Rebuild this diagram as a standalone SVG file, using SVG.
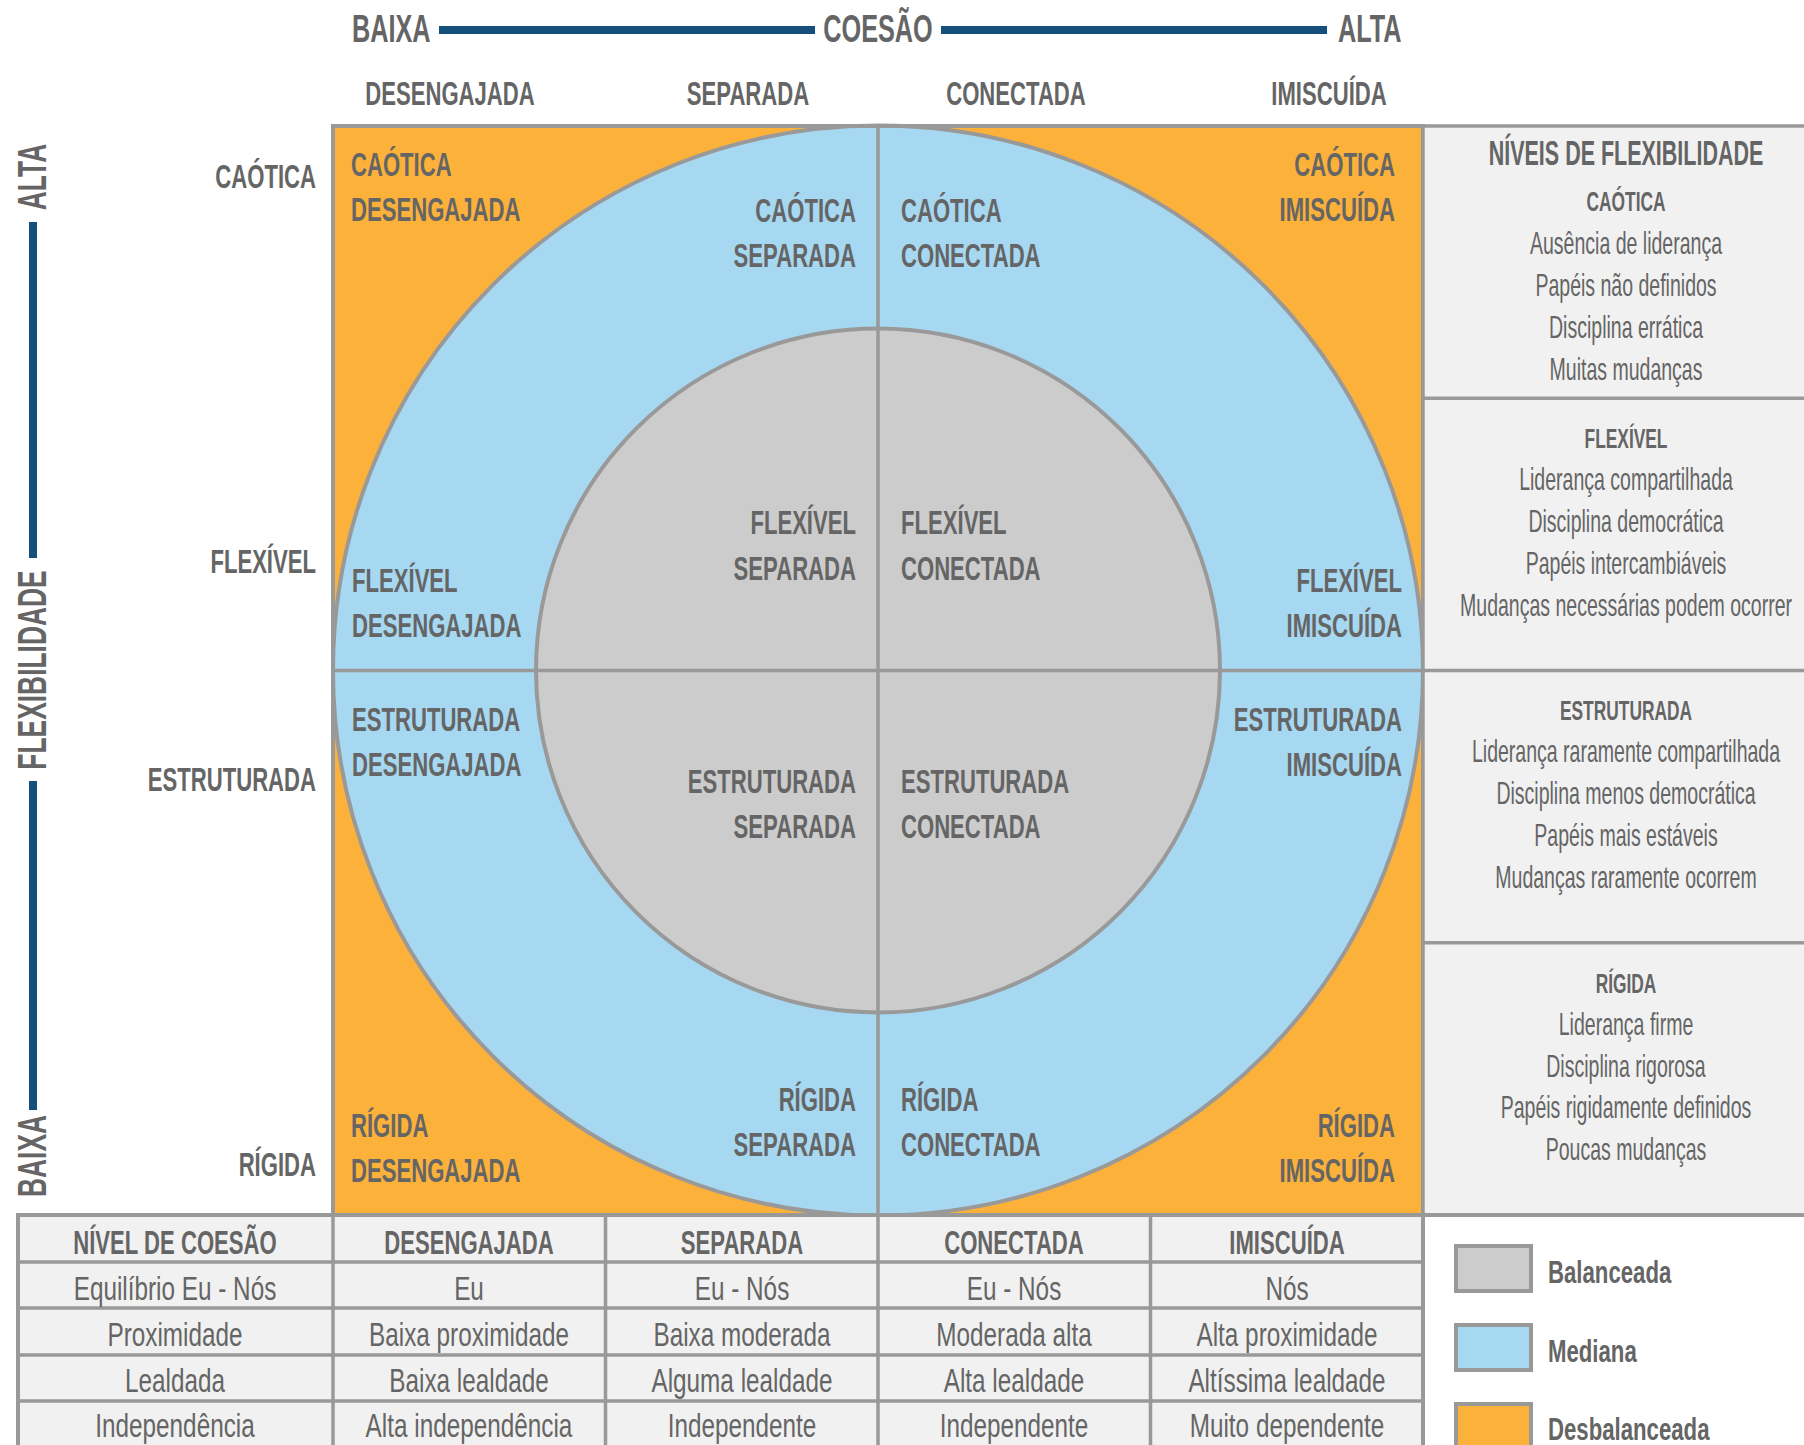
<svg xmlns="http://www.w3.org/2000/svg" width="1804" height="1445" viewBox="0 0 1804 1445">
<style>
text{font-family:"Liberation Sans",Arial,sans-serif;fill:#656565}
.t{font-size:38px;font-weight:bold}
.v{font-size:40px;font-weight:bold}
.b{font-size:33px;font-weight:bold}
.ph{font-size:35px;font-weight:bold}
.ps{font-size:28px;font-weight:bold}
.pr{font-size:31px}
.tr{font-size:33px}
.lg{font-size:31px;font-weight:bold}
.m{text-anchor:middle}
.e{text-anchor:end}
.ln{stroke:#999;stroke-width:3.5;fill:none}
.ax{stroke:#154f7b;stroke-width:8}
</style>
<rect width="1804" height="1445" fill="#fff"/>

<g id="axes">
<line class="ax" x1="439" y1="30" x2="815" y2="30"/>
<line class="ax" x1="941" y1="30" x2="1327" y2="30"/>
<line class="ax" x1="33" y1="222" x2="33" y2="558"/>
<line class="ax" x1="33" y1="781" x2="33" y2="1110"/>
</g>

<g id="titles">
<text class="t" transform="translate(352,42) scale(0.665,1)">BAIXA</text>
<text class="t m" transform="translate(878,42) scale(0.665,1)">COESÃO</text>
<text class="t" transform="translate(1338,42) scale(0.665,1)">ALTA</text>
<text class="v m" transform="translate(46,177) rotate(-90) scale(0.66,1)">ALTA</text>
<text class="v m" transform="translate(46,670) rotate(-90) scale(0.66,1)">FLEXIBILIDADE</text>
<text class="v m" transform="translate(46,1156) rotate(-90) scale(0.66,1)">BAIXA</text>
</g>

<g id="column-headers">
<text class="b m" transform="translate(450,105) scale(0.67,1)">DESENGAJADA</text>
<text class="b m" transform="translate(748,105) scale(0.67,1)">SEPARADA</text>
<text class="b m" transform="translate(1016,105) scale(0.67,1)">CONECTADA</text>
<text class="b m" transform="translate(1329,105) scale(0.67,1)">IMISCUÍDA</text>
</g>

<g id="row-headers">
<text class="b e" transform="translate(316,188) scale(0.67,1)">CAÓTICA</text>
<text class="b e" transform="translate(316,573) scale(0.67,1)">FLEXÍVEL</text>
<text class="b e" transform="translate(316,791) scale(0.67,1)">ESTRUTURADA</text>
<text class="b e" transform="translate(316,1176) scale(0.67,1)">RÍGIDA</text>
</g>

<g id="circumplex">
<rect x="333" y="126" width="1090" height="1089" fill="#fcb13b"/>
<circle cx="878" cy="670.5" r="545" fill="#a7d8f1" stroke="#999" stroke-width="4"/>
<circle cx="878" cy="670.5" r="342" fill="#cccccc" stroke="#999" stroke-width="4"/>
<line class="ln" x1="878" y1="126" x2="878" y2="1215"/>
<line class="ln" x1="333" y1="670.5" x2="1423" y2="670.5"/>
<rect x="333" y="126" width="1090" height="1089" fill="none" stroke="#999" stroke-width="4"/>
</g>

<g id="unbalanced-labels">
<text class="b" transform="translate(351,176) scale(0.67,1)">CAÓTICA</text>
<text class="b" transform="translate(351,221) scale(0.67,1)">DESENGAJADA</text>
<text class="b e" transform="translate(1395,176) scale(0.67,1)">CAÓTICA</text>
<text class="b e" transform="translate(1395,221) scale(0.67,1)">IMISCUÍDA</text>
<text class="b" transform="translate(351,1137) scale(0.67,1)">RÍGIDA</text>
<text class="b" transform="translate(351,1182) scale(0.67,1)">DESENGAJADA</text>
<text class="b e" transform="translate(1395,1137) scale(0.67,1)">RÍGIDA</text>
<text class="b e" transform="translate(1395,1182) scale(0.67,1)">IMISCUÍDA</text>
</g>

<g id="mid-range-labels">
<text class="b e" transform="translate(856,222) scale(0.67,1)">CAÓTICA</text>
<text class="b e" transform="translate(856,267) scale(0.67,1)">SEPARADA</text>
<text class="b" transform="translate(901,222) scale(0.67,1)">CAÓTICA</text>
<text class="b" transform="translate(901,267) scale(0.67,1)">CONECTADA</text>
<text class="b" transform="translate(352,592) scale(0.67,1)">FLEXÍVEL</text>
<text class="b" transform="translate(352,637) scale(0.67,1)">DESENGAJADA</text>
<text class="b e" transform="translate(1402,592) scale(0.67,1)">FLEXÍVEL</text>
<text class="b e" transform="translate(1402,637) scale(0.67,1)">IMISCUÍDA</text>
<text class="b" transform="translate(352,731) scale(0.67,1)">ESTRUTURADA</text>
<text class="b" transform="translate(352,776) scale(0.67,1)">DESENGAJADA</text>
<text class="b e" transform="translate(1402,731) scale(0.67,1)">ESTRUTURADA</text>
<text class="b e" transform="translate(1402,776) scale(0.67,1)">IMISCUÍDA</text>
<text class="b e" transform="translate(856,1111) scale(0.67,1)">RÍGIDA</text>
<text class="b e" transform="translate(856,1156) scale(0.67,1)">SEPARADA</text>
<text class="b" transform="translate(901,1111) scale(0.67,1)">RÍGIDA</text>
<text class="b" transform="translate(901,1156) scale(0.67,1)">CONECTADA</text>
</g>

<g id="balanced-labels">
<text class="b e" transform="translate(856,534) scale(0.67,1)">FLEXÍVEL</text>
<text class="b e" transform="translate(856,580) scale(0.67,1)">SEPARADA</text>
<text class="b" transform="translate(901,534) scale(0.67,1)">FLEXÍVEL</text>
<text class="b" transform="translate(901,580) scale(0.67,1)">CONECTADA</text>
<text class="b e" transform="translate(856,793) scale(0.67,1)">ESTRUTURADA</text>
<text class="b e" transform="translate(856,838) scale(0.67,1)">SEPARADA</text>
<text class="b" transform="translate(901,793) scale(0.67,1)">ESTRUTURADA</text>
<text class="b" transform="translate(901,838) scale(0.67,1)">CONECTADA</text>
</g>

<g id="flexibility-panel">
<rect x="1423" y="126" width="385" height="1089" fill="#f1f1f1"/>
<line class="ln" x1="1423" y1="126" x2="1804" y2="126"/>
<line class="ln" x1="1423" y1="398.25" x2="1804" y2="398.25"/>
<line class="ln" x1="1423" y1="670.5" x2="1804" y2="670.5"/>
<line class="ln" x1="1423" y1="942.75" x2="1804" y2="942.75"/>
<line class="ln" x1="1423" y1="126" x2="1423" y2="1215"/>
<text class="ph m" transform="translate(1626,165) scale(0.614,1)">NÍVEIS DE FLEXIBILIDADE</text>
<text class="ps m" transform="translate(1626,211) scale(0.62,1)">CAÓTICA</text>
<text class="pr m" transform="translate(1626,254) scale(0.63,1)">Ausência de liderança</text>
<text class="pr m" transform="translate(1626,296) scale(0.63,1)">Papéis não definidos</text>
<text class="pr m" transform="translate(1626,338) scale(0.63,1)">Disciplina errática</text>
<text class="pr m" transform="translate(1626,380) scale(0.63,1)">Muitas mudanças</text>
<text class="ps m" transform="translate(1626,448) scale(0.62,1)">FLEXÍVEL</text>
<text class="pr m" transform="translate(1626,490) scale(0.63,1)">Liderança compartilhada</text>
<text class="pr m" transform="translate(1626,532) scale(0.63,1)">Disciplina democrática</text>
<text class="pr m" transform="translate(1626,574) scale(0.63,1)">Papéis intercambiáveis</text>
<text class="pr m" transform="translate(1626,616) scale(0.63,1)">Mudanças necessárias podem ocorrer</text>
<text class="ps m" transform="translate(1626,720) scale(0.62,1)">ESTRUTURADA</text>
<text class="pr m" transform="translate(1626,762) scale(0.63,1)">Liderança raramente compartilhada</text>
<text class="pr m" transform="translate(1626,804) scale(0.63,1)">Disciplina menos democrática</text>
<text class="pr m" transform="translate(1626,846) scale(0.63,1)">Papéis mais estáveis</text>
<text class="pr m" transform="translate(1626,888) scale(0.63,1)">Mudanças raramente ocorrem</text>
<text class="ps m" transform="translate(1626,993) scale(0.62,1)">RÍGIDA</text>
<text class="pr m" transform="translate(1626,1035) scale(0.63,1)">Liderança firme</text>
<text class="pr m" transform="translate(1626,1077) scale(0.63,1)">Disciplina rigorosa</text>
<text class="pr m" transform="translate(1626,1118) scale(0.63,1)">Papéis rigidamente definidos</text>
<text class="pr m" transform="translate(1626,1160) scale(0.63,1)">Poucas mudanças</text>
</g>

<g id="cohesion-table">
<rect x="18" y="1215" width="1405" height="240" fill="#f1f1f1" stroke="#999" stroke-width="4"/>
<line class="ln" x1="18" y1="1262" x2="1423" y2="1262"/>
<line class="ln" x1="18" y1="1308" x2="1423" y2="1308"/>
<line class="ln" x1="18" y1="1355" x2="1423" y2="1355"/>
<line class="ln" x1="18" y1="1401" x2="1423" y2="1401"/>
<line class="ln" x1="333" y1="1215" x2="333" y2="1445"/>
<line class="ln" x1="605.5" y1="1215" x2="605.5" y2="1445"/>
<line class="ln" x1="878" y1="1215" x2="878" y2="1445"/>
<line class="ln" x1="1150.5" y1="1215" x2="1150.5" y2="1445"/>
<line x1="18" y1="1215" x2="1804" y2="1215" stroke="#999" stroke-width="4"/>
<text class="b m" transform="translate(175,1254) scale(0.67,1)">NÍVEL DE COESÃO</text>
<text class="b m" transform="translate(469,1254) scale(0.67,1)">DESENGAJADA</text>
<text class="b m" transform="translate(742,1254) scale(0.67,1)">SEPARADA</text>
<text class="b m" transform="translate(1014,1254) scale(0.67,1)">CONECTADA</text>
<text class="b m" transform="translate(1287,1254) scale(0.67,1)">IMISCUÍDA</text>
<text class="tr m" transform="translate(175,1300) scale(0.737,1)">Equilíbrio Eu - Nós</text>
<text class="tr m" transform="translate(469,1300) scale(0.737,1)">Eu</text>
<text class="tr m" transform="translate(742,1300) scale(0.737,1)">Eu - Nós</text>
<text class="tr m" transform="translate(1014,1300) scale(0.737,1)">Eu - Nós</text>
<text class="tr m" transform="translate(1287,1300) scale(0.737,1)">Nós</text>
<text class="tr m" transform="translate(175,1346) scale(0.737,1)">Proximidade</text>
<text class="tr m" transform="translate(469,1346) scale(0.737,1)">Baixa proximidade</text>
<text class="tr m" transform="translate(742,1346) scale(0.737,1)">Baixa moderada</text>
<text class="tr m" transform="translate(1014,1346) scale(0.737,1)">Moderada alta</text>
<text class="tr m" transform="translate(1287,1346) scale(0.737,1)">Alta proximidade</text>
<text class="tr m" transform="translate(175,1392) scale(0.737,1)">Lealdada</text>
<text class="tr m" transform="translate(469,1392) scale(0.737,1)">Baixa lealdade</text>
<text class="tr m" transform="translate(742,1392) scale(0.737,1)">Alguma lealdade</text>
<text class="tr m" transform="translate(1014,1392) scale(0.737,1)">Alta lealdade</text>
<text class="tr m" transform="translate(1287,1392) scale(0.737,1)">Altíssima lealdade</text>
<text class="tr m" transform="translate(175,1437) scale(0.737,1)">Independência</text>
<text class="tr m" transform="translate(469,1437) scale(0.737,1)">Alta independência</text>
<text class="tr m" transform="translate(742,1437) scale(0.737,1)">Independente</text>
<text class="tr m" transform="translate(1014,1437) scale(0.737,1)">Independente</text>
<text class="tr m" transform="translate(1287,1437) scale(0.737,1)">Muito dependente</text>
</g>

<g id="legend">
<rect x="1456" y="1246" width="75" height="45" fill="#cccccc" stroke="#999" stroke-width="4"/>
<rect x="1456" y="1325" width="75" height="45" fill="#a7d8f1" stroke="#999" stroke-width="4"/>
<rect x="1456" y="1404" width="75" height="45" fill="#fcb13b" stroke="#999" stroke-width="4"/>
<text class="lg" transform="translate(1548,1283) scale(0.716,1)">Balanceada</text>
<text class="lg" transform="translate(1548,1362) scale(0.716,1)">Mediana</text>
<text class="lg" transform="translate(1548,1440) scale(0.716,1)">Desbalanceada</text>
</g>
</svg>
